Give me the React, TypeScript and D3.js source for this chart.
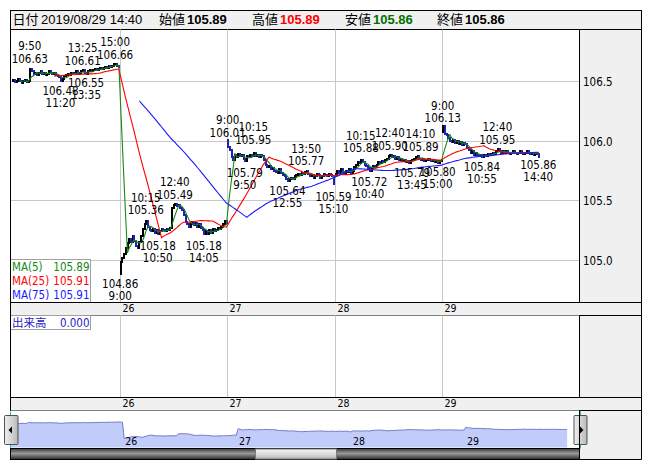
import React from 'react';
import * as d3 from 'd3';

// ---------- data ----------
const dayLabels = ['23', '26', '27', '28', '29'];
const dayOpen = [106.5, 104.88, 106.01, 105.7, 106.07];

const close23 = [
  106.51, 106.49, 106.5, 106.52, 106.5, 106.48, 106.5, 106.51, 106.49, 106.5,
  106.6, 106.58, 106.56, 106.57, 106.55, 106.57, 106.58, 106.56, 106.57, 106.55,
  106.56, 106.58, 106.57, 106.56, 106.57, 106.55, 106.54, 106.53, 106.5, 106.52,
  106.54, 106.55, 106.56, 106.55, 106.57, 106.56, 106.57, 106.58, 106.56, 106.57,
  106.58, 106.59, 106.57, 106.56, 106.58, 106.59, 106.58, 106.59, 106.6, 106.59,
  106.6, 106.61, 106.6, 106.61, 106.62, 106.61, 106.63, 106.62, 106.63, 106.64,
  106.64, 106.63, 106.62,
];
const close26 = [
  104.98, 105.02, 105.05, 105.1, 105.14, 105.18, 105.15, 105.2, 105.16, 105.12,
  105.1, 105.15, 105.2, 105.26, 105.3, 105.33, 105.28, 105.25, 105.24, 105.26,
  105.23, 105.25, 105.22, 105.24, 105.26, 105.25, 105.24, 105.26, 105.25, 105.27,
  105.44, 105.46, 105.47, 105.45, 105.46, 105.44, 105.42, 105.38, 105.32, 105.3,
  105.28, 105.3, 105.32, 105.29, 105.31, 105.28, 105.3, 105.27, 105.25, 105.22,
  105.24, 105.22, 105.25, 105.23, 105.26, 105.24, 105.25, 105.27, 105.26, 105.28,
  105.3, 105.33, 105.31,
];
const close27 = [
  105.95, 105.92, 105.86, 105.84, 105.88, 105.86, 105.89, 105.87, 105.88, 105.85,
  105.83, 105.87, 105.86, 105.88, 105.87, 105.9, 105.87, 105.88, 105.86, 105.88,
  105.87, 105.84, 105.8, 105.78, 105.79, 105.76, 105.77, 105.75, 105.74, 105.73,
  105.76, 105.73, 105.71, 105.7, 105.68, 105.66, 105.68, 105.69, 105.68, 105.7,
  105.71, 105.72, 105.71, 105.73, 105.72, 105.74, 105.75, 105.72, 105.7, 105.71,
  105.69, 105.7, 105.72, 105.71, 105.69, 105.7, 105.72, 105.71, 105.7, 105.72,
  105.71, 105.7, 105.64,
];
const close28 = [
  105.72, 105.75, 105.73, 105.76, 105.74, 105.72, 105.75, 105.74, 105.76, 105.73,
  105.75, 105.78, 105.8, 105.82, 105.81, 105.84, 105.82, 105.8, 105.79, 105.77,
  105.75, 105.77, 105.79, 105.78, 105.8, 105.82, 105.81, 105.83, 105.82, 105.84,
  105.85, 105.87, 105.88, 105.86, 105.87, 105.85, 105.86, 105.84, 105.85, 105.83,
  105.84, 105.82, 105.83, 105.81, 105.83, 105.84, 105.85, 105.86, 105.87, 105.85,
  105.84, 105.85, 105.83, 105.84, 105.85, 105.84, 105.83, 105.84, 105.82, 105.83,
  105.81, 105.83, 105.84,
];
const close29 = [
  106.12, 106.06, 106.05, 106.02, 106.0, 105.99, 106.01, 105.98, 106.0, 105.97,
  105.99, 105.96, 105.98, 105.97, 105.94, 105.92, 105.9, 105.91, 105.88, 105.9,
  105.88, 105.87, 105.88, 105.86, 105.88, 105.87, 105.89, 105.88, 105.89, 105.9,
  105.89, 105.91, 105.93, 105.91, 105.9, 105.91, 105.9, 105.91, 105.9, 105.89,
  105.9, 105.91, 105.9, 105.89, 105.9, 105.91, 105.9, 105.89, 105.9, 105.91,
  105.9, 105.89, 105.9, 105.88, 105.89, 105.89, 105.86,
];
const dayCloses = [close23, close26, close27, close28, close29];

const yTickValues = [105.0, 105.5, 106.0, 106.5];

const maPeriods = [5, 25, 75];
const maNames = ['MA(5)', 'MA(25)', 'MA(75)'];
const maLastValues = ['105.89', '105.91', '105.91'];
const maColors = ['#138a13', '#ff0000', '#1a1aff'];

const headerDate = '2019/08/29 14:40';
const headerLabels = ['始値', '高値', '安値', '終値'];
const headerValues = ['105.89', '105.89', '105.86', '105.86'];
const headerColors = ['#000000', '#ff0000', '#007000', '#000000'];

const volumeLabel = '出来高';
const volumeValue = '0.000';

type Ann = { day: number; time: string; value: number; kind: 'high' | 'low' };
const annotations: Ann[] = [
  { day: 0, time: '9:50', value: 106.63, kind: 'high' },
  { day: 0, time: '11:20', value: 106.48, kind: 'low' },
  { day: 0, time: '13:25', value: 106.61, kind: 'high' },
  { day: 0, time: '13:35', value: 106.55, kind: 'low' },
  { day: 0, time: '15:00', value: 106.66, kind: 'high' },
  { day: 1, time: '9:00', value: 104.86, kind: 'low' },
  { day: 1, time: '10:15', value: 105.36, kind: 'high' },
  { day: 1, time: '10:50', value: 105.18, kind: 'low' },
  { day: 1, time: '12:40', value: 105.49, kind: 'high' },
  { day: 1, time: '14:05', value: 105.18, kind: 'low' },
  { day: 2, time: '9:00', value: 106.01, kind: 'high' },
  { day: 2, time: '9:50', value: 105.79, kind: 'low' },
  { day: 2, time: '10:15', value: 105.95, kind: 'high' },
  { day: 2, time: '12:55', value: 105.64, kind: 'low' },
  { day: 2, time: '13:50', value: 105.77, kind: 'high' },
  { day: 2, time: '15:10', value: 105.59, kind: 'low' },
  { day: 3, time: '10:15', value: 105.88, kind: 'high' },
  { day: 3, time: '10:40', value: 105.72, kind: 'low' },
  { day: 3, time: '12:40', value: 105.9, kind: 'high' },
  { day: 3, time: '13:45', value: 105.79, kind: 'low' },
  { day: 3, time: '14:10', value: 105.89, kind: 'high' },
  { day: 3, time: '15:00', value: 105.8, kind: 'low' },
  { day: 4, time: '9:00', value: 106.13, kind: 'high' },
  { day: 4, time: '10:55', value: 105.84, kind: 'low' },
  { day: 4, time: '12:40', value: 105.95, kind: 'high' },
  { day: 4, time: '14:40', value: 105.86, kind: 'low' },
];

// ---------- layout ----------
const W = 652;
const H = 469;
const SLOTS_PER_DAY = 63; // 5-min bars, 9:00-11:25 & 12:30-15:10
const L = 10.5;
const R = 579.5;
const FR = 641.5;
const TOP = 10.5;
const HB = 29.5;
const PB = 302.5;
const B1 = 315.5;
const VB = 397.5;
const B2 = 410.5;
const NB = 448.5;
const SB = 459.5;

const NARROW =
  "'Liberation Sans Narrow', 'Arial Narrow', 'DejaVu Sans Condensed', 'Liberation Sans', 'Noto Sans CJK JP', sans-serif";
const SANS = "'Liberation Sans', 'Noto Sans CJK JP', sans-serif";

function slotOf(t: string) {
  const [h, m] = t.split(':').map(Number);
  const min = h * 60 + m;
  return min < 690 ? (min - 540) / 5 : (min - 750) / 5 + 30;
}

type Bar = { g: number; open: number; close: number };

export default function App() {
  const bars: Bar[] = [];
  dayCloses.forEach((arr, d) => {
    arr.forEach((c, s) => {
      const prev = s === 0 ? dayOpen[d] : arr[s - 1];
      bars.push({ g: d * SLOTS_PER_DAY + s, open: prev, close: c });
    });
  });
  const totalSlots = SLOTS_PER_DAY * dayLabels.length;

  const xs = d3.scaleLinear().domain([0, totalSlots]).range([12.2, 12.2 + totalSlots * 1.7064]);
  const ys = d3.scaleLinear().domain([104.6505, 106.932]).range([301.7, 29.5]);
  const nx = d3.scaleLinear().domain([0, totalSlots]).range([10.3, 10.3 + totalSlots * 1.808]);
  const ny = d3.scaleLinear().domain([104.07, 107.35]).range([447.5, 415]);

  const closes = bars.map((b) => b.close);
  const maSeries = maPeriods.map((p) =>
    bars.map((b, i) => (i >= p - 1 ? { g: b.g, v: d3.mean(closes.slice(i - p + 1, i + 1)) as number } : null))
  );
  const line = d3
    .line<{ g: number; v: number } | null>()
    .defined((d) => d != null)
    .x((d) => xs(d!.g) + 0.9)
    .y((d) => ys(d!.v));

  const navArea = d3
    .area<Bar>()
    .x((d) => nx(d.g))
    .y0(447.5)
    .y1((d) => ny(d.close));
  const navLine = d3
    .line<Bar>()
    .x((d) => nx(d.g))
    .y((d) => ny(d.close));

  const dayStarts = dayLabels.map((_, d) => d * SLOTS_PER_DAY);

  return (
    <svg
      width={W}
      height={H}
      style={{ position: 'absolute', left: 0, top: 0, background: '#fff' }}
      xmlns="http://www.w3.org/2000/svg"
    >
      <defs>
        <linearGradient id="track" x1="0" y1="0" x2="0" y2="1">
          <stop offset="0" stopColor="#3a3a3a" />
          <stop offset="0.45" stopColor="#9a9a9a" />
          <stop offset="1" stopColor="#2a2a2a" />
        </linearGradient>
        <linearGradient id="thumb" x1="0" y1="0" x2="0" y2="1">
          <stop offset="0" stopColor="#f4f4f4" />
          <stop offset="0.5" stopColor="#dcdcdc" />
          <stop offset="1" stopColor="#b4b4b4" />
        </linearGradient>
        <linearGradient id="btn" x1="0" y1="0" x2="1" y2="0">
          <stop offset="0" stopColor="#f0f0f0" />
          <stop offset="1" stopColor="#b8b8b8" />
        </linearGradient>
        <clipPath id="plotClip">
          <rect x={L} y={HB} width={R - L} height={PB - HB} />
        </clipPath>
        <clipPath id="navClip">
          <rect x={L} y={B2} width={R - L} height={NB - B2} />
        </clipPath>
      </defs>

      {/* right gray panel */}
      <rect x={R} y={HB} width={FR - R} height={SB - HB} fill="#f0f0f0" />

      {/* header */}
      <rect x={L} y={TOP} width={FR - L} height={HB - TOP} fill="#f0f0f0" stroke="#000" strokeWidth={1} />
      <g fontFamily={SANS} fontSize={13}>
        <text x={12.5} y={24.3}>日付</text>
        <text x={41} y={24.3}>{headerDate}</text>
        {headerLabels.map((lab, i) => {
          const xs0 = [159, 252, 345, 437][i];
          return (
            <g key={lab}>
              <text x={xs0} y={24.3}>{lab}</text>
              <text x={xs0 + 28} y={24.3} fontWeight="bold" fill={headerColors[i]}>
                {headerValues[i]}
              </text>
            </g>
          );
        })}
      </g>

      {/* main plot grid */}
      <g stroke="#c8c8c8" strokeWidth={1}>
        {yTickValues.map((v) => (
          <line key={v} x1={L} x2={R} y1={Math.round(ys(v)) + 0.5} y2={Math.round(ys(v)) + 0.5} />
        ))}
        {dayStarts.slice(1).map((g) => (
          <line key={g} x1={Math.round(xs(g)) + 0.5} x2={Math.round(xs(g)) + 0.5} y1={HB} y2={PB} />
        ))}
      </g>

      {/* y axis labels */}
      <g fontFamily={NARROW} fontSize={11.5} fill="#000">
        {yTickValues.map((v) => (
          <text key={v} x={583} y={Math.round(ys(v)) + 4.5}>
            {v.toFixed(1)}
          </text>
        ))}
      </g>

      {/* candles */}
      <g clipPath="url(#plotClip)" shapeRendering="crispEdges">
        {bars.map((b) => {
          const top = ys(Math.max(b.open, b.close));
          const bot = ys(Math.min(b.open, b.close));
          return (
            <rect
              key={b.g}
              x={xs(b.g)}
              y={top - 1}
              width={2}
              height={Math.max(2, bot - top + 2)}
              fill={b.close >= b.open ? '#000000' : '#2020b4'}
            />
          );
        })}
      </g>

      {/* moving averages */}
      <g clipPath="url(#plotClip)" fill="none" strokeWidth={1.1}>
        {maSeries.map((s, i) => (
          <path key={i} d={line(s) || ''} stroke={maColors[i]} />
        ))}
      </g>

      {/* annotations */}
      <g fontFamily={NARROW} fontSize={11.5} fill="#000" textAnchor="middle">
        {annotations.map((a, i) => {
          const x = xs(a.day * SLOTS_PER_DAY + slotOf(a.time)) + 0.5;
          const y = ys(a.value);
          const val = a.value.toFixed(2);
          return a.kind === 'high' ? (
            <g key={i}>
              <text x={x} y={y - 15.5}>{a.time}</text>
              <text x={x} y={y - 3}>{val}</text>
            </g>
          ) : (
            <g key={i}>
              <text x={x} y={y + 11.5}>{val}</text>
              <text x={x} y={y + 23.5}>{a.time}</text>
            </g>
          );
        })}
      </g>

      {/* MA legend */}
      <rect x={L} y={259.5} width={80} height={PB - 259.5} fill="#ffffff" stroke="#a0a0a0" />
      <g fontFamily={NARROW} fontSize={11.5}>
        {maNames.map((n, i) => (
          <g key={n} fill={maColors[i]}>
            <text x={12} y={270.8 + i * 14.2}>{n}</text>
            <text x={89.5} y={270.8 + i * 14.2} textAnchor="end">{maLastValues[i]}</text>
          </g>
        ))}
      </g>

      {/* date band 1 */}
      <rect x={L} y={PB} width={FR - L} height={B1 - PB} fill="#f0f0f0" stroke="#000" />
      <g fontFamily={NARROW} fontSize={10.5}>
        {dayStarts.slice(1).map((g, i) => (
          <text key={g} x={Math.round(xs(g)) + 2.5} y={312.3}>{dayLabels[i + 1]}</text>
        ))}
      </g>

      {/* volume panel */}
      <rect x={L} y={B1} width={R - L} height={VB - B1} fill="#fff" />
      <g stroke="#c8c8c8">
        {dayStarts.slice(1).map((g) => (
          <line key={g} x1={Math.round(xs(g)) + 0.5} x2={Math.round(xs(g)) + 0.5} y1={B1} y2={VB} />
        ))}
      </g>
      <rect x={L} y={B1} width={80} height={14} fill="#ffffff" stroke="#a0a0a0" />
      <g fontFamily={NARROW} fontSize={11.5} fill="#2424c8">
        <text x={12} y={327}>{volumeLabel}</text>
        <text x={89.5} y={327} textAnchor="end">{volumeValue}</text>
      </g>

      {/* date band 2 */}
      <rect x={L} y={VB} width={FR - L} height={B2 - VB} fill="#f0f0f0" stroke="#000" />
      <g fontFamily={NARROW} fontSize={10.5}>
        {dayStarts.slice(1).map((g, i) => (
          <text key={g} x={Math.round(xs(g)) + 2.5} y={407.3}>{dayLabels[i + 1]}</text>
        ))}
      </g>

      {/* navigator */}
      <rect x={L} y={B2} width={R - L} height={NB - B2} fill="#fff" />
      <g clipPath="url(#navClip)">
        <path d={navArea(bars) || ''} fill="#c2ccfa" />
        <path d={navLine(bars) || ''} fill="none" stroke="#7478c8" strokeWidth={1} />
      </g>
      <g fontFamily={NARROW} fontSize={10.5}>
        {dayStarts.slice(1).map((g, i) => (
          <text key={g} x={nx(g) + 1} y={445}>{dayLabels[i + 1]}</text>
        ))}
      </g>
      <line x1={L} x2={L} y1={411.5} y2={NB} stroke="#22b8e8" />
      <line x1={R + 1} x2={R + 1} y1={411.5} y2={NB} stroke="#22b8e8" />

      {/* nav buttons */}
      <rect x={4.5} y={415.5} width={13.5} height={29} fill="url(#btn)" stroke="#505050" rx={1} />
      <path d="M8.5,430 L12,426.5 L12,433.5 Z" fill="#000" />
      <rect x={574} y={415.5} width={13} height={29} fill="url(#btn)" stroke="#505050" rx={1} />
      <path d="M583.5,430 L580,426.5 L580,433.5 Z" fill="#000" />

      {/* scroll bar */}
      <rect x={L} y={NB} width={R - L} height={SB - NB} fill="url(#track)" stroke="#000" />
      <rect x={255.5} y={NB + 0.5} width={81} height={SB - NB - 1} fill="url(#thumb)" stroke="#7a7a7a" />

      {/* frame lines */}
      <g stroke="#000" fill="none" strokeWidth={1}>
        <line x1={L} x2={L} y1={TOP} y2={B2} />
        <line x1={FR} x2={FR} y1={TOP} y2={SB} />
        <line x1={R} x2={R} y1={HB} y2={PB} />
        <line x1={R} x2={R} y1={B1} y2={VB} />
        <line x1={R} x2={R} y1={B2} y2={SB} />
        <line x1={R} x2={FR} y1={SB} y2={SB} />
      </g>
    </svg>
  );
}
